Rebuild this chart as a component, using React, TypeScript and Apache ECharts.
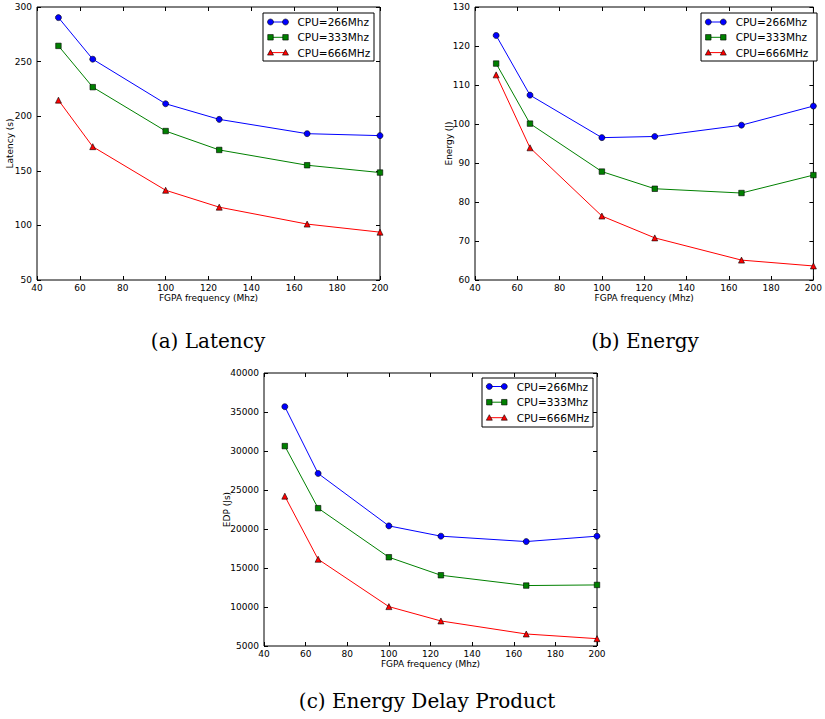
import React, { useEffect, useRef } from "react";
import * as echarts from "echarts";

const freqs = [50, 66, 100, 125, 166, 200];
const seriesNames = ["CPU=266Mhz", "CPU=333Mhz", "CPU=666MHz"];

const latency266 = [290.3, 252.2, 211.4, 197.1, 184.0, 182.2];
const latency333 = [264.4, 226.6, 186.4, 169.1, 155.1, 148.4];
const latency666 = [214.7, 172.1, 132.2, 116.7, 101.2, 93.8];

const energy266 = [122.7, 107.4, 96.5, 96.8, 99.7, 104.6];
const energy333 = [115.5, 100.1, 87.8, 83.4, 82.3, 86.9];
const energy666 = [112.6, 93.9, 76.4, 70.8, 65.1, 63.6];

const edp266 = [35680, 27120, 20400, 19080, 18390, 19080];
const edp333 = [30630, 22670, 16380, 14070, 12750, 12830];
const edp666 = [24210, 16120, 10050, 8210, 6540, 5940];

const xTicks = { min: 40, max: 200, interval: 20 };
const yLatency = { min: 50, max: 300, interval: 50 };
const yEnergy = { min: 60, max: 130, interval: 10 };
const yEdp = { min: 5000, max: 40000, interval: 5000 };

const xName = "FGPA frequency (Mhz)";
const yNames = ["Latency (s)", "Energy (J)", "EDP (Js)"];
const captions = ["(a) Latency", "(b) Energy", "(c) Energy Delay Product"];

const colors = ["#0000ff", "#008000", "#ff0000"];
const symbols = ["circle", "rect", "triangle"];

const SANS = "DejaVu Sans";

export default function App() {
  const ref = useRef<HTMLDivElement>(null);
  useEffect(() => {
    document.body.style.margin = "0";
    if (!ref.current) return;
    const chart = echarts.init(ref.current, undefined, { renderer: "svg" });

    const grids = [
      { left: 37, top: 7, width: 343, height: 273 },
      { left: 475, top: 7, width: 343, height: 273 },
      { left: 264, top: 373, width: 333, height: 273 },
    ];
    const yRanges = [yLatency, yEnergy, yEdp];
    const yGaps = [22.5, 22, 33];
    const data = [
      [latency266, latency333, latency666],
      [energy266, energy333, energy666],
      [edp266, edp333, edp666],
    ];

    const tickStyle = { show: true, inside: true, length: 4, lineStyle: { color: "#000", width: 1 } };
    const labelStyle = { color: "#000", fontFamily: SANS, fontSize: 9, formatter: (v: number) => String(v) };

    const xAxis: any[] = [];
    const yAxis: any[] = [];
    grids.forEach((_, i) => {
      xAxis.push({
        type: "value",
        gridIndex: i,
        ...xTicks,
        position: "bottom",
        name: xName,
        nameLocation: "middle",
        nameGap: 13,
        nameMoveOverlap: false,
        nameTextStyle: { color: "#000", fontFamily: SANS, fontSize: 9 },
        axisLine: { show: false },
        axisTick: tickStyle,
        axisLabel: { ...labelStyle, margin: 3 },
        splitLine: { show: false },
      });
      yAxis.push({
        type: "value",
        gridIndex: i,
        ...yRanges[i],
        position: "left",
        name: yNames[i],
        nameLocation: "middle",
        nameGap: yGaps[i],
        nameMoveOverlap: false,
        nameTextStyle: { color: "#000", fontFamily: SANS, fontSize: 9 },
        axisLine: { show: false },
        axisTick: tickStyle,
        axisLabel: { ...labelStyle, margin: 5 },
        splitLine: { show: false },
      });
    });
    grids.forEach((_, i) => {
      xAxis.push({
        type: "value",
        gridIndex: i,
        ...xTicks,
        position: "top",
        axisLine: { show: false },
        axisTick: tickStyle,
        axisLabel: { show: false },
        splitLine: { show: false },
      });
      yAxis.push({
        type: "value",
        gridIndex: i,
        ...yRanges[i],
        position: "right",
        axisLine: { show: false },
        axisTick: tickStyle,
        axisLabel: { show: false },
        splitLine: { show: false },
      });
    });

    const series: any[] = [];
    data.forEach((group, gi) => {
      group.forEach((vals, si) => {
        series.push({
          type: "line",
          name: seriesNames[si],
          xAxisIndex: gi,
          yAxisIndex: gi,
          data: freqs.map((f, k) => [f, vals[k]]),
          symbol: symbols[si],
          symbolSize: si === 1 ? 5.5 : 6,
          showAllSymbol: true,
          lineStyle: { color: colors[si], width: 1 },
          itemStyle: { color: colors[si], borderColor: "#000", borderWidth: 0.6 },
          z: 3 + si,
        });
      });
    });

    const legends = [
      { x: 263, y: 13, w: 111, h: 48, m1: 270.5, m2: 285.5, tx: 297.5, rows: [22, 37.3, 52.6] },
      { x: 701, y: 13, w: 116, h: 48, m1: 708.3, m2: 723.3, tx: 735.7, rows: [22, 37.3, 52.6] },
      { x: 482, y: 378, w: 111, h: 49, m1: 489.3, m2: 504.3, tx: 516.7, rows: [386.5, 402.2, 417.7] },
    ];
    const markerEl = (si: number, cx: number, cy: number) => {
      const style = { fill: colors[si], stroke: "#000", lineWidth: 0.6 };
      if (si === 0) return { type: "circle", shape: { cx, cy, r: 3 }, style, z: 102 };
      if (si === 1) return { type: "rect", shape: { x: cx - 2.75, y: cy - 2.75, width: 5.5, height: 5.5 }, style, z: 102 };
      return {
        type: "polygon",
        shape: { points: [[cx, cy - 3], [cx + 3, cy + 2.5], [cx - 3, cy + 2.5]] },
        style,
        z: 102,
      };
    };
    const graphic: any[] = [];
    legends.forEach((lg) => {
      graphic.push({
        type: "rect",
        shape: { x: lg.x, y: lg.y, width: lg.w, height: lg.h },
        style: { fill: "#fff", stroke: "#000", lineWidth: 1 },
        z: 100,
      });
      lg.rows.forEach((ry, si) => {
        graphic.push({
          type: "line",
          shape: { x1: lg.m1, y1: ry, x2: lg.m2, y2: ry },
          style: { stroke: colors[si], lineWidth: 1 },
          z: 101,
        });
        graphic.push(markerEl(si, lg.m1, ry));
        graphic.push(markerEl(si, lg.m2, ry));
        graphic.push({
          type: "text",
          x: lg.tx,
          y: ry,
          style: {
            text: seriesNames[si],
            fill: "#000",
            font: `10.5px '${SANS}'`,
            textAlign: "left",
            textVerticalAlign: "middle",
          },
          z: 102,
        });
      });
    });
    const capPos = [
      [208, 341],
      [645, 341],
      [427, 701],
    ];
    captions.forEach((c, i) => {
      graphic.push({
        type: "text",
        x: capPos[i][0],
        y: capPos[i][1],
        style: {
          text: c,
          fill: "#000",
          font: "20px 'DejaVu Serif'",
          textAlign: "center",
          textVerticalAlign: "middle",
        },
      });
    });

    chart.setOption({
      animation: false,
      backgroundColor: "#fff",
      grid: grids.map((g) => ({ ...g, show: true, borderColor: "#000", borderWidth: 1, backgroundColor: "transparent" })),
      xAxis,
      yAxis,
      series,
      graphic,
    });
    return () => chart.dispose();
  }, []);
  return <div ref={ref} style={{ width: 825, height: 719 }} />;
}
